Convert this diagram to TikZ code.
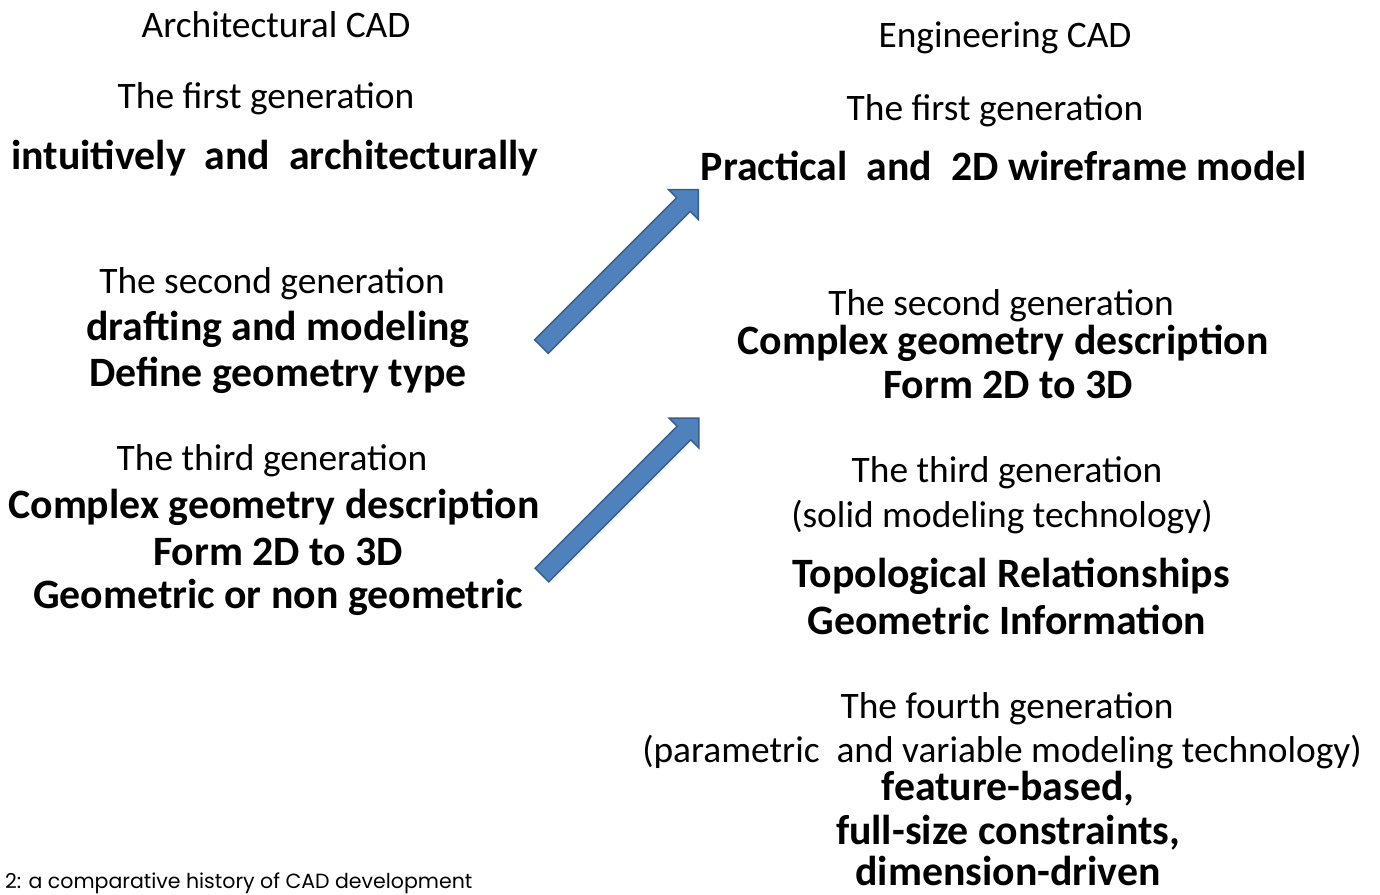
\documentclass[tikz,border=0pt]{standalone}
\usepackage{fontspec}
\setmainfont{Carlito}
\newfontfamily\capfont{Poppins}
\usetikzlibrary{shapes.arrows}
\definecolor{arrfill}{HTML}{4F81BD}
\definecolor{arrdraw}{HTML}{385D8A}

\begin{document}
\begin{tikzpicture}[x=1pt,y=-1pt,
  gen/.style={font=\fontsize{37.4}{40}\selectfont,inner sep=0pt},
  key/.style={font=\fontsize{41.8}{45}\selectfont\bfseries,inner sep=0pt},
  blockarr/.style={single arrow,fill=arrfill,draw=arrdraw,line width=1.4pt,
    inner xsep=0pt,inner ysep=9pt,single arrow head extend=11.5pt,
    minimum height=222pt,rotate=45}]
\useasboundingbox (0,0) rectangle (1380,894);
\clip (0,0) rectangle (1380,894);

% ---- architectural CAD, left column ------------------------------------
\node[gen] (archcad) at (276,25)  {Architectural CAD};
\node[gen] (a1gen)   at (266,99)  {The first generation};
\node[key] (a1key)   at (275,158) {intuitively\ \ and\ \ architecturally};
\node[gen] (a2gen)   at (272,284) {The second generation};
\node[key] (a2keya)  at (278,329) {drafting and modeling};
\node[key] (a2keyb)  at (278,375) {Define geometry type};
\node[gen] (a3gen)   at (272,461) {The third generation};
\node[key] (a3keya)  at (274,507) {Complex geometry description};
\node[key] (a3keyb)  at (278,552) {Form 2D to 3D};
\node[key] (a3keyc)  at (278,597) {Geometric or non geometric};

% ---- engineering CAD, right column -------------------------------------
\node[gen] (engcad)  at (1005,38)  {Engineering CAD};
\node[gen] (e1gen)   at (995,111)  {The first generation};
\node[key] (e1key)   at (1004,166) {Practical\ \ and\ \ 2D wireframe model};
\node[gen] (e2gen)   at (1001,306) {The second generation};
\node[key] (e2keya)  at (1003,343) {Complex geometry description};
\node[key] (e2keyb)  at (1008,385) {Form 2D to 3D};
\node[gen] (e3gen)   at (1007,473) {The third generation};
\node[gen] (e3tech)  at (1002,517) {(solid modeling technology)};
\node[key] (e3keya)  at (1011,576) {Topological Relationships};
\node[key] (e3keyb)  at (1007,620) {Geometric Information};
\node[gen] (e4gen)   at (1007,709) {The fourth generation};
\node[gen] (e4tech)  at (1002,752) {(parametric\ \ and variable modeling technology)};
\node[key] (e4keya)  at (1008,789) {feature-based,};
\node[key] (e4keyb)  at (1008,833) {full-size constraints,};
\node[key,anchor=base,text depth=0pt] (e4keyc) at (1008,885) {dimension-driven};

% ---- the two block arrows ----------------------------------------------
\node[blockarr] (arrup)  at (616.5,271.5) {};
\node[blockarr] (arrlow) at (617,500) {};

% ---- caption at the lower edge -----------------------------------------
\node[font=\capfont\fontsize{20.5}{22}\selectfont,inner sep=0pt,anchor=base west]
  (caption) at (5,888) {2: a comparative history of CAD development};
\end{tikzpicture}
\end{document}
